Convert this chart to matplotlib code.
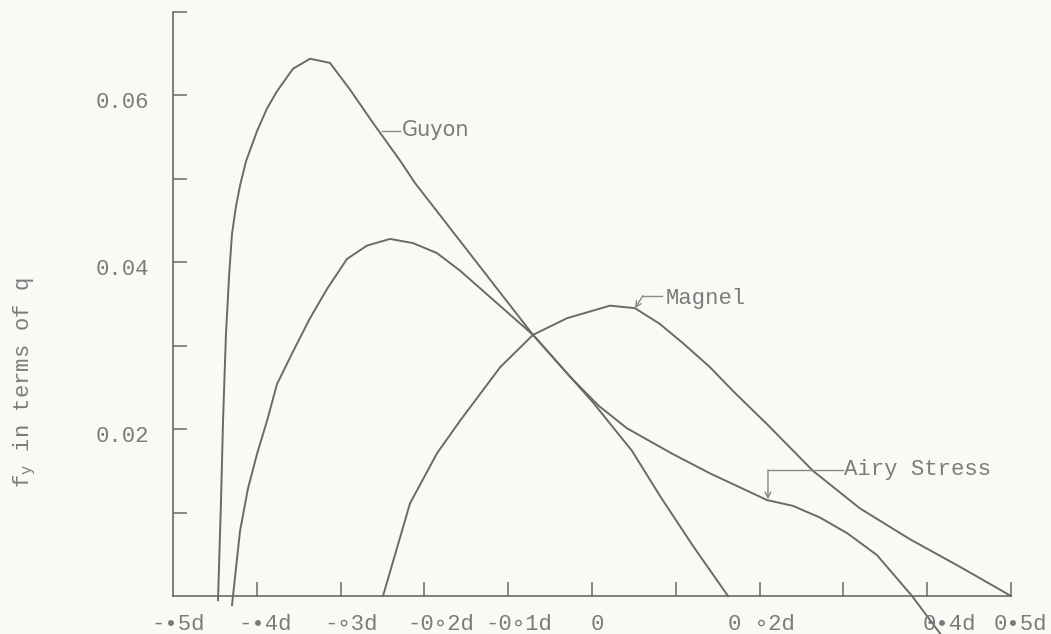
import matplotlib
matplotlib.use('Agg')
import matplotlib.pyplot as plt

# typewriter look for all the text
plt.rcParams['font.family'] = ['Liberation Mono', 'DejaVu Sans Mono']
plt.rcParams['mathtext.default'] = 'regular'

# Curves (x in units of d, y = f_y in terms of q)
guyon_x = [-0.4463, -0.4427, -0.4403, -0.4368, -0.4330, -0.4296, -0.4250, -0.4200,
           -0.4129, -0.3998, -0.3880, -0.3759, -0.3568, -0.3365, -0.3127, -0.2888,
           -0.2613, -0.2291, -0.2112, -0.0704, 0.0012, 0.0477, 0.0811, 0.1205, 0.1623]
guyon_y = [-0.0005, 0.0114, 0.0210, 0.0314, 0.0385, 0.0434, 0.0466, 0.0492,
           0.0521, 0.0557, 0.0584, 0.0605, 0.0632, 0.0644, 0.0639, 0.0607,
           0.0567, 0.0522, 0.0495, 0.0313, 0.0232, 0.0174, 0.0120, 0.0060, 0.0]

airy_x = [-0.4296, -0.4200, -0.4105, -0.3998, -0.3878, -0.3759, -0.3568, -0.3365,
          -0.3162, -0.2924, -0.2685, -0.2410, -0.2136, -0.1850, -0.1575, -0.0704,
          -0.0263, 0.0080, 0.0418, 0.0967, 0.1408, 0.2088, 0.2399, 0.2721, 0.3050,
          0.3401, 0.3819, 0.4236]
airy_y = [-0.0011, 0.0078, 0.0129, 0.0170, 0.0210, 0.0254, 0.0293, 0.0333,
          0.0368, 0.0404, 0.0420, 0.0428, 0.0423, 0.0411, 0.0390, 0.0313,
          0.0263, 0.0228, 0.0201, 0.0170, 0.0147, 0.0115, 0.0108, 0.0094, 0.0075,
          0.0049, 0.0, -0.0056]

magnel_x = [-0.2494, -0.2172, -0.1850, -0.1575, -0.1098, -0.0704, -0.0298, 0.0215,
            0.0513, 0.0811, 0.1086, 0.1400, 0.1700, 0.2088, 0.2637, 0.3198,
            0.3795, 0.4391, 0.5]
magnel_y = [0.0, 0.0111, 0.0171, 0.0210, 0.0274, 0.0313, 0.0333, 0.0348,
            0.0345, 0.0326, 0.0303, 0.0275, 0.0244, 0.0206, 0.0150, 0.0105,
            0.0068, 0.0035, 0.0]

xtick_vals = [-0.4, -0.3, -0.2, -0.1, 0.0, 0.1, 0.2, 0.3, 0.4, 0.5]
ytick_vals = [0.01, 0.02, 0.03, 0.04, 0.05, 0.06, 0.07]

# typed labels (placed by hand on the original, so not exactly on the ticks)
xlabel_text = ['-•5d', '-•4d', '-∘3d', '-0∘2d', '-0∘1d', '0', '0 ∘2d', '0•4d', '0•5d']
xlabel_pos = [-0.494, -0.390, -0.288, -0.180, -0.087, 0.006, 0.202, 0.427, 0.511]
ylabel_text = ['0.02', '0.04', '0.06']
ylabel_vals = [0.02, 0.04, 0.06]

bg = '#f9f9f5'
line_col = '#6a6a6a'
text_col = '#7c7c7c'

fig = plt.figure(figsize=(10.51, 6.34), dpi=100, facecolor=bg)
ax = fig.add_axes([173 / 1051, 1 - 596 / 634, 838 / 1051, 584 / 634])
ax.set_facecolor(bg)
ax.set_xlim(-0.5, 0.5)
ax.set_ylim(0, 0.07)

for s in ['top', 'right']:
    ax.spines[s].set_visible(False)
for s in ['left', 'bottom']:
    ax.spines[s].set_color(line_col)
    ax.spines[s].set_linewidth(1.2)

ax.set_xticks(xtick_vals)
ax.set_yticks(ytick_vals)
ax.tick_params(direction='in', length=10, width=1.1, color=line_col,
               labelbottom=False, labelleft=False)

# the three curves
for xs, ys in [(guyon_x, guyon_y), (airy_x, airy_y), (magnel_x, magnel_y)]:
    ax.plot(xs, ys, color=line_col, lw=1.4, clip_on=False, solid_joinstyle='round')

# tick labels as typed text
for pos, txt in zip(xlabel_pos, xlabel_text):
    ax.text(pos, -0.048, txt, transform=ax.get_xaxis_transform(), ha='center',
            va='center', fontsize=16, color=text_col, clip_on=False)
for val, txt in zip(ylabel_vals, ylabel_text):
    ax.text(-0.028, val - 0.0009, txt, transform=ax.get_yaxis_transform(), ha='right',
            va='center', fontsize=16, color=text_col)

fig.text(25 / 1051, 1 - 383 / 634, r'f$_{y}$ in terms of q', rotation=90,
         ha='center', va='center', fontsize=16, color=text_col)

# curve labels with leader lines
ann_col = '#888888'
ax.plot([-0.2506, -0.229], [0.0557, 0.0557], color=ann_col, lw=1)
ax.text(-0.2268, 0.0559, 'Guyon', family='DejaVu Sans', fontsize=15,
        color=text_col, ha='left', va='center')

ax.plot([0.0609, 0.0835], [0.0360, 0.0360], color=ann_col, lw=1)
ax.annotate('', xy=(0.0513, 0.0345), xytext=(0.0609, 0.0360),
            arrowprops=dict(arrowstyle='->', color=ann_col, lw=1, shrinkA=0,
                            shrinkB=0, mutation_scale=10))
ax.text(0.0883, 0.0356, 'Magnel', fontsize=16, color=text_col, ha='left', va='center')

ax.plot([0.210, 0.2995], [0.0151, 0.0151], color=ann_col, lw=1)
ax.annotate('', xy=(0.210, 0.0116), xytext=(0.210, 0.0151),
            arrowprops=dict(arrowstyle='->', color=ann_col, lw=1, shrinkA=0,
                            shrinkB=0, mutation_scale=10))
ax.text(0.301, 0.0152, 'Airy Stress', fontsize=16, color=text_col, ha='left', va='center')

fig.savefig('out.png', dpi=100, facecolor=bg)
